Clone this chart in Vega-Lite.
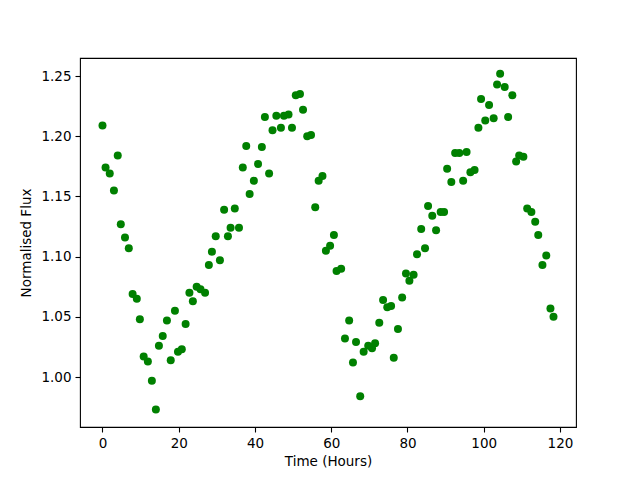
{
  "$schema": "https://vega.github.io/schema/vega-lite/v6.json",
  "autosize": {"type": "none"},
  "padding": {"left": 80, "top": 58, "right": 64, "bottom": 53},
  "width": 496,
  "height": 369,
  "background": "white",
  "config": {
    "view": {"stroke": "black", "strokeWidth": 1.1},
    "font": "DejaVu Sans",
    "axis": {
      "grid": false,
      "domain": false,
      "tickColor": "black",
      "tickSize": 5,
      "tickWidth": 1.1,
      "labelFont": "DejaVu Sans",
      "labelFontSize": 13.5,
      "labelColor": "black",
      "labelPadding": 4,
      "titleFont": "DejaVu Sans",
      "titleFontSize": 13.5,
      "titleFontWeight": "normal",
      "titleColor": "black"
    }
  },
  "data": {
    "values": [
      {"t": 0, "f": 1.209}, {"t": 0.8, "f": 1.174}, {"t": 1.9, "f": 1.169}, {"t": 3.0, "f": 1.155},
      {"t": 4.0, "f": 1.184}, {"t": 4.8, "f": 1.127}, {"t": 5.9, "f": 1.116}, {"t": 6.9, "f": 1.107},
      {"t": 7.9, "f": 1.069}, {"t": 9.0, "f": 1.065}, {"t": 9.8, "f": 1.048}, {"t": 10.8, "f": 1.017},
      {"t": 11.9, "f": 1.013}, {"t": 12.95, "f": 0.997}, {"t": 14.0, "f": 0.973}, {"t": 14.8, "f": 1.026},
      {"t": 15.8, "f": 1.034}, {"t": 16.9, "f": 1.047}, {"t": 17.9, "f": 1.014}, {"t": 19.0, "f": 1.055},
      {"t": 19.8, "f": 1.021}, {"t": 20.8, "f": 1.023}, {"t": 21.8, "f": 1.044}, {"t": 22.8, "f": 1.070},
      {"t": 23.7, "f": 1.063}, {"t": 24.7, "f": 1.075}, {"t": 25.7, "f": 1.073}, {"t": 26.9, "f": 1.070},
      {"t": 27.9, "f": 1.093}, {"t": 28.7, "f": 1.104}, {"t": 29.7, "f": 1.117}, {"t": 30.8, "f": 1.097},
      {"t": 31.9, "f": 1.139}, {"t": 32.9, "f": 1.117}, {"t": 33.6, "f": 1.124}, {"t": 34.7, "f": 1.140},
      {"t": 35.8, "f": 1.124}, {"t": 36.8, "f": 1.174}, {"t": 37.7, "f": 1.192}, {"t": 38.6, "f": 1.152},
      {"t": 39.7, "f": 1.163}, {"t": 40.8, "f": 1.177}, {"t": 41.8, "f": 1.191}, {"t": 42.6, "f": 1.216},
      {"t": 43.7, "f": 1.169}, {"t": 44.6, "f": 1.205}, {"t": 45.6, "f": 1.217}, {"t": 46.8, "f": 1.207},
      {"t": 47.6, "f": 1.217}, {"t": 48.8, "f": 1.218}, {"t": 49.7, "f": 1.207}, {"t": 50.7, "f": 1.234},
      {"t": 51.8, "f": 1.235}, {"t": 52.6, "f": 1.222}, {"t": 53.7, "f": 1.200}, {"t": 54.7, "f": 1.201},
      {"t": 55.8, "f": 1.141}, {"t": 56.7, "f": 1.163}, {"t": 57.7, "f": 1.167}, {"t": 58.6, "f": 1.105},
      {"t": 59.7, "f": 1.109}, {"t": 60.7, "f": 1.118}, {"t": 61.4, "f": 1.088}, {"t": 62.6, "f": 1.090},
      {"t": 63.6, "f": 1.032}, {"t": 64.7, "f": 1.047}, {"t": 65.7, "f": 1.012}, {"t": 66.5, "f": 1.029},
      {"t": 67.6, "f": 0.984}, {"t": 68.5, "f": 1.021}, {"t": 69.7, "f": 1.026}, {"t": 70.7, "f": 1.024},
      {"t": 71.5, "f": 1.028}, {"t": 72.6, "f": 1.045}, {"t": 73.6, "f": 1.064}, {"t": 74.7, "f": 1.058},
      {"t": 75.7, "f": 1.059}, {"t": 76.4, "f": 1.016}, {"t": 77.5, "f": 1.040}, {"t": 78.6, "f": 1.066},
      {"t": 79.6, "f": 1.086}, {"t": 80.5, "f": 1.080}, {"t": 81.6, "f": 1.085}, {"t": 82.5, "f": 1.102},
      {"t": 83.6, "f": 1.123}, {"t": 84.6, "f": 1.107}, {"t": 85.4, "f": 1.142}, {"t": 86.5, "f": 1.134},
      {"t": 87.5, "f": 1.122}, {"t": 88.7, "f": 1.137}, {"t": 89.6, "f": 1.137}, {"t": 90.4, "f": 1.173},
      {"t": 91.5, "f": 1.162}, {"t": 92.5, "f": 1.186}, {"t": 93.6, "f": 1.186}, {"t": 94.6, "f": 1.163},
      {"t": 95.5, "f": 1.187}, {"t": 96.5, "f": 1.170}, {"t": 97.6, "f": 1.172}, {"t": 98.6, "f": 1.207},
      {"t": 99.3, "f": 1.231}, {"t": 100.4, "f": 1.213}, {"t": 101.4, "f": 1.226}, {"t": 102.6, "f": 1.215},
      {"t": 103.5, "f": 1.243}, {"t": 104.3, "f": 1.252}, {"t": 105.5, "f": 1.241}, {"t": 106.4, "f": 1.216},
      {"t": 107.5, "f": 1.234}, {"t": 108.5, "f": 1.179}, {"t": 109.3, "f": 1.184}, {"t": 110.4, "f": 1.183},
      {"t": 111.4, "f": 1.140}, {"t": 112.5, "f": 1.137}, {"t": 113.5, "f": 1.129}, {"t": 114.3, "f": 1.118},
      {"t": 115.4, "f": 1.093}, {"t": 116.4, "f": 1.101}, {"t": 117.5, "f": 1.057}, {"t": 118.3, "f": 1.050}
    ]
  },
  "mark": {"type": "circle", "color": "#008000", "opacity": 1, "size": 64},
  "encoding": {
    "x": {
      "field": "t", "type": "quantitative",
      "scale": {"domain": [-5.9, 124.2], "nice": false, "zero": false},
      "axis": {"values": [0, 20, 40, 60, 80, 100, 120], "title": "Time (Hours)", "titlePadding": 5}
    },
    "y": {
      "field": "f", "type": "quantitative",
      "scale": {"domain": [0.9585, 1.265], "nice": false, "zero": false},
      "axis": {"values": [1.0, 1.05, 1.1, 1.15, 1.2, 1.25], "format": ".2f", "title": "Normalised Flux", "titlePadding": 7}
    }
  }
}
